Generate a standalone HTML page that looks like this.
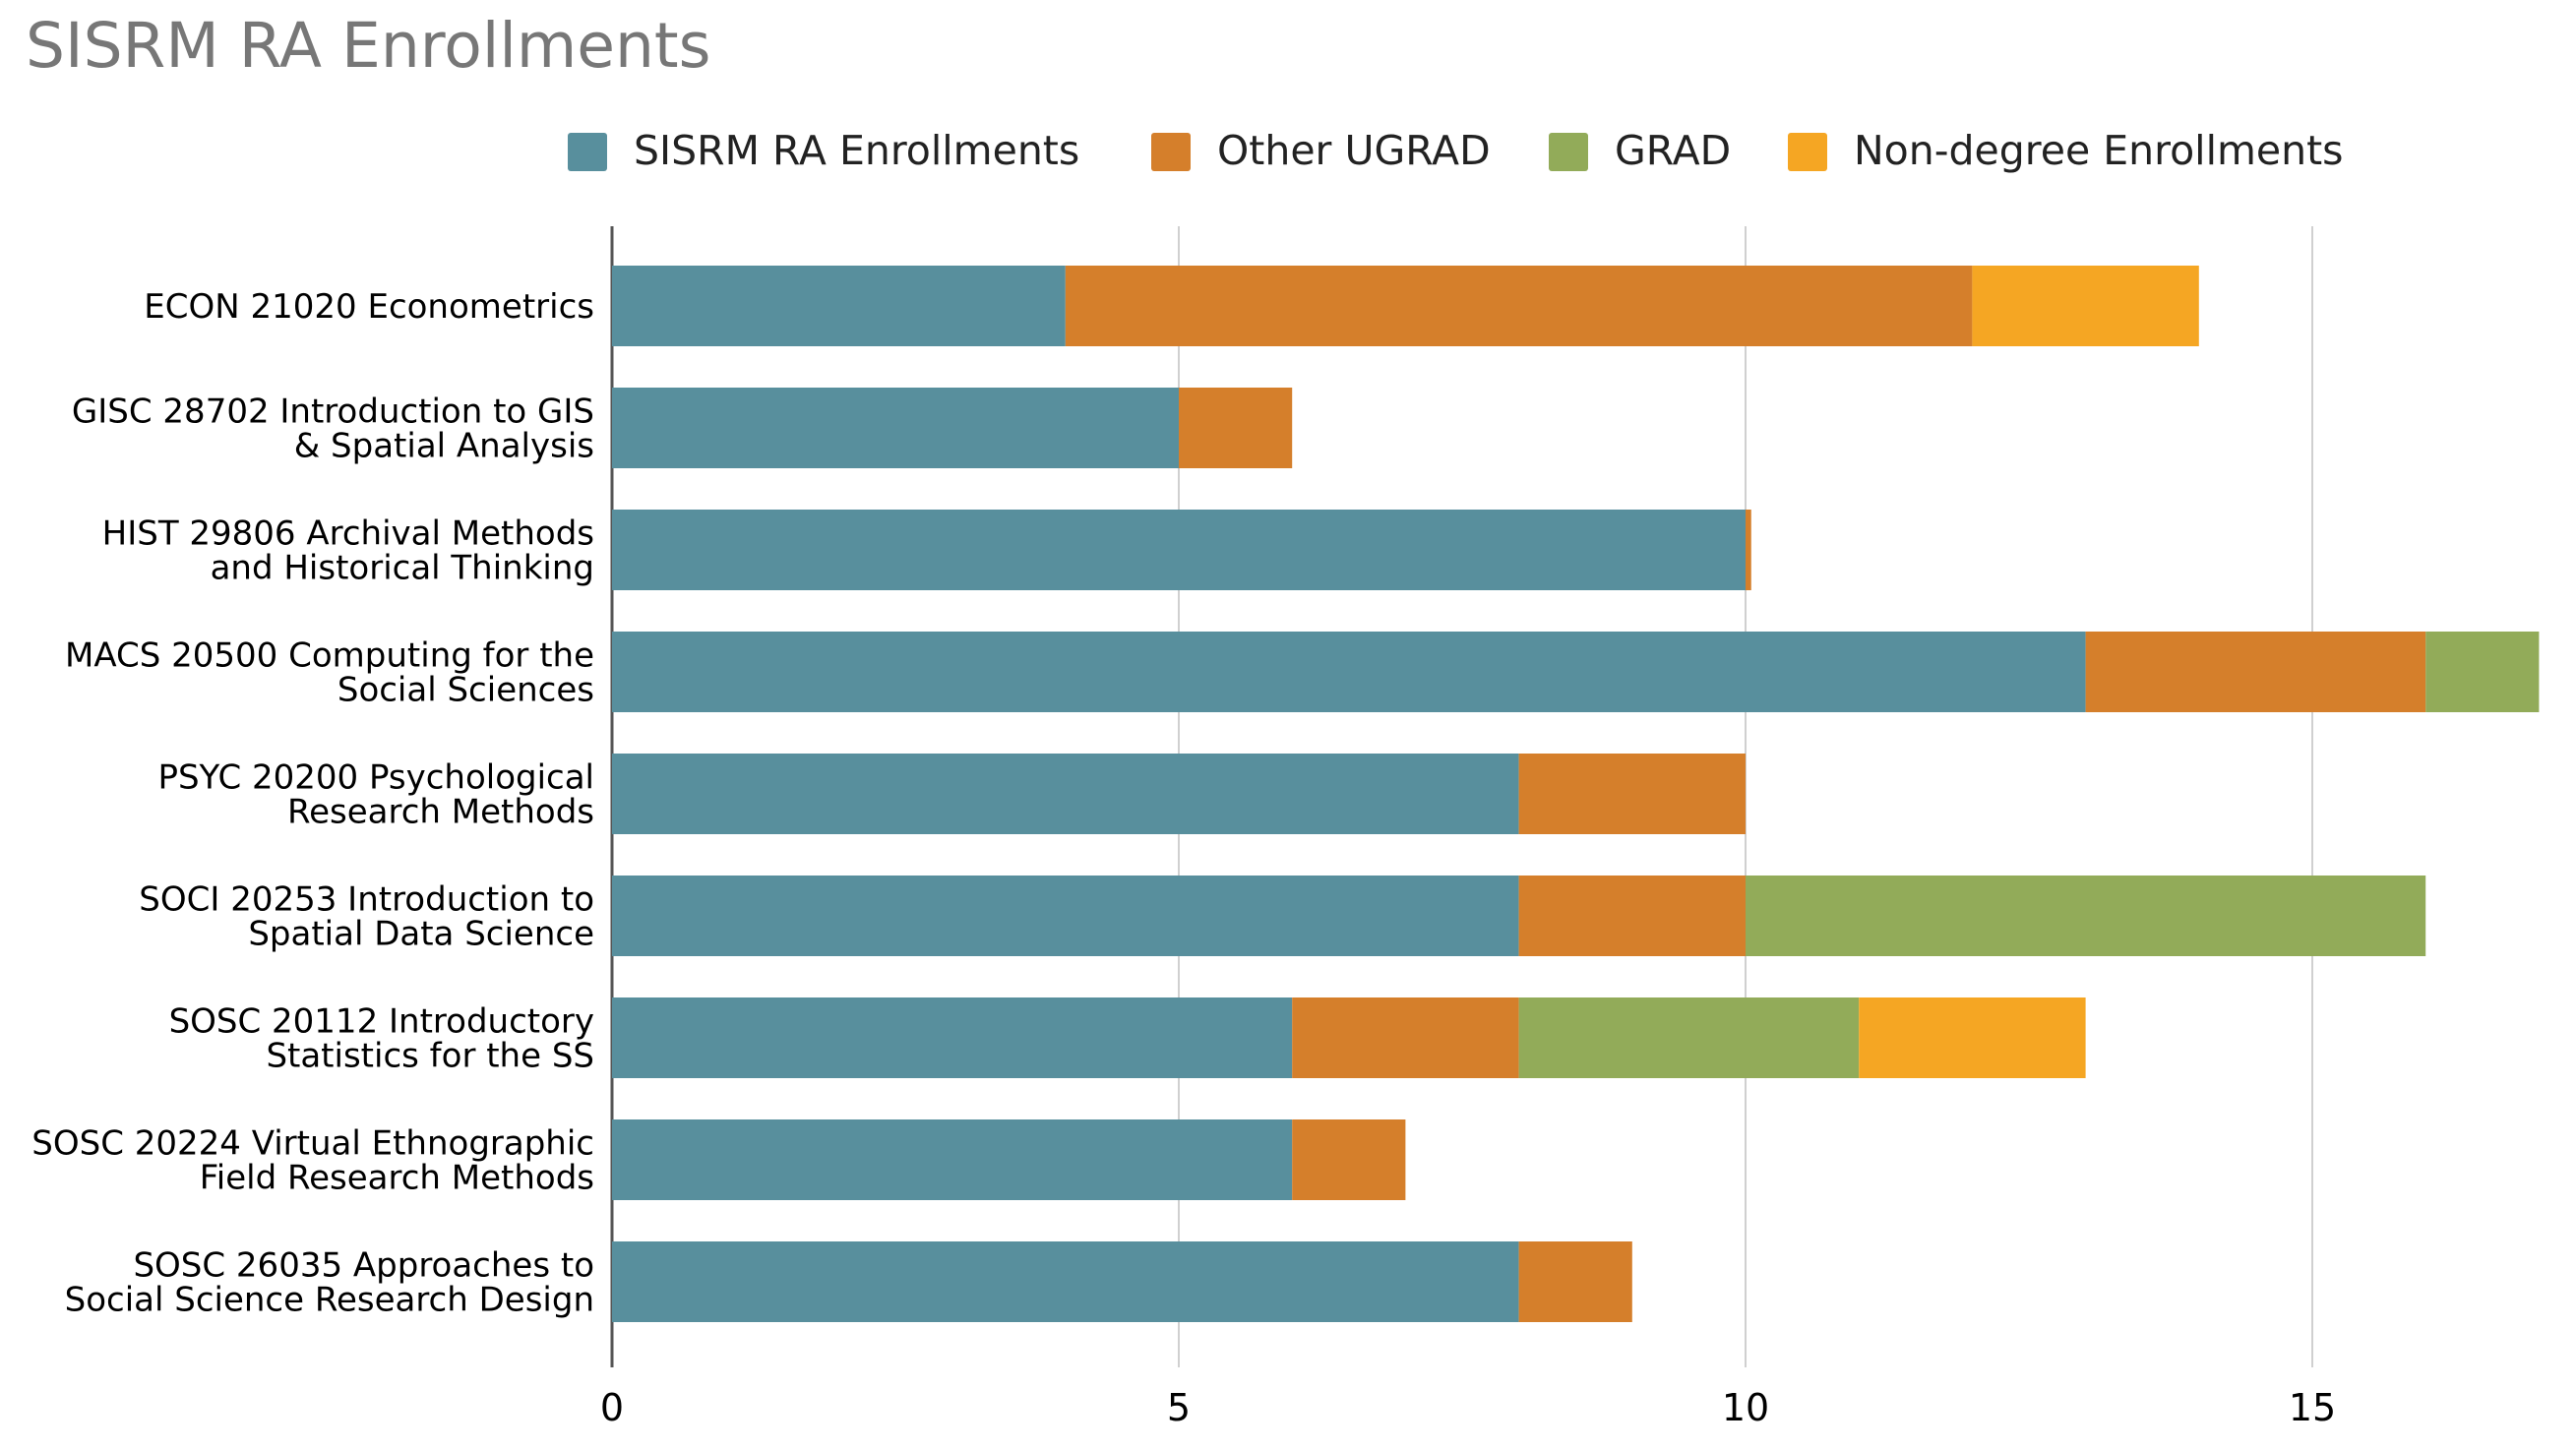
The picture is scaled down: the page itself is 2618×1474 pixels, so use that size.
<!DOCTYPE html>
<html><head><meta charset="utf-8"><style>
html,body{margin:0;padding:0;background:#fff;}
svg{display:block;font-family:"DejaVu Sans","Liberation Sans",sans-serif;}
</style></head><body>
<svg id="chart" width="2618" height="1474" viewBox="0 0 2618 1474" xmlns="http://www.w3.org/2000/svg">
<text x="26" y="68" font-size="63" fill="#777">SISRM RA Enrollments</text>
<g id="legend"></g>
<g id="grid"></g>
<g id="bars"></g>
<g id="ylabels"></g>
<g id="xticks"></g>
</svg>
<script>
const categories = [
  ["ECON 21020 Econometrics"],
  ["GISC 28702 Introduction to GIS","& Spatial Analysis"],
  ["HIST 29806 Archival Methods","and Historical Thinking"],
  ["MACS 20500 Computing for the","Social Sciences"],
  ["PSYC 20200 Psychological","Research Methods"],
  ["SOCI 20253 Introduction to","Spatial Data Science"],
  ["SOSC 20112 Introductory","Statistics for the SS"],
  ["SOSC 20224 Virtual Ethnographic","Field Research Methods"],
  ["SOSC 26035 Approaches to","Social Science Research Design"]
];
const seriesNames = ["SISRM RA Enrollments","Other UGRAD","GRAD","Non-degree Enrollments"];
const sisrm = [4,5,10,13,8,8,6,6,8];
const otherUgrad = [8,1,0.05,3,2,2,2,1,1];
const grad = [0,0,0,1,0,6,3,0,0];
const nonDegree = [2,0,0,0,0,0,2,0,0];
const xTicks = [0,5,10,15];
const colors = ["#588f9d","#d57f2b","#92ab59","#f5a623"];

const NS="http://www.w3.org/2000/svg";
const x0=622, pxPerUnit=115.2, rowTop=249, rowH=124, barH=82;
function xs(v){return x0+v*pxPerUnit;}
function rowCenter(i){return rowTop+rowH*(i+0.5);}
function mk(tag,attrs,parent){const e=document.createElementNS(NS,tag);for(const k in attrs)e.setAttribute(k,attrs[k]);parent.appendChild(e);return e;}

const grid=document.getElementById('grid');
xTicks.forEach(t=>{
  const l=mk('line',{x1:xs(t),x2:xs(t),y1:230,y2:1390,stroke:t===0?'#555':'#d0d0d0','stroke-width':t===0?3:2},grid);
  
  
  const tx=mk('text',{x:xs(t),y:1444,'font-size':38,'text-anchor':'middle',fill:'#000'},document.getElementById('xticks'));
  tx.textContent=t;
  
  
});

const series=[sisrm,otherUgrad,grad,nonDegree];
const bars=document.getElementById('bars');
categories.forEach((c,i)=>{
  let acc=0;
  series.forEach((s,j)=>{
    const v=s[i];
    if(v>0){
      const r=mk('rect',{x:xs(acc),y:rowCenter(i)-barH/2,width:xs(acc+v)-xs(acc),height:barH,fill:colors[j]},bars);
      
      
    }
    acc+=v;
  });
  const t=mk('text',{x:604,'font-size':34,'text-anchor':'end',fill:'#000'},document.getElementById('ylabels'));
  
  
  const n=c.length, lh=35;
  c.forEach((line,k)=>{
    const ts=mk('tspan',{x:604,y:rowCenter(i)+12+(k-(n-1)/2)*lh},t);
    ts.textContent=line;
  });
});

const legend=document.getElementById('legend');
const swX=[577,1170,1574,1817];
seriesNames.forEach((nm,j)=>{
  const g=mk('g',{},legend);
  
  
  mk('rect',{x:swX[j],y:135,width:40,height:39,rx:3,fill:colors[j]},g);
  const t=mk('text',{x:swX[j]+67,y:167,'font-size':41,fill:'#222'},g);
  t.textContent=nm;
});
</script>
</body></html>
